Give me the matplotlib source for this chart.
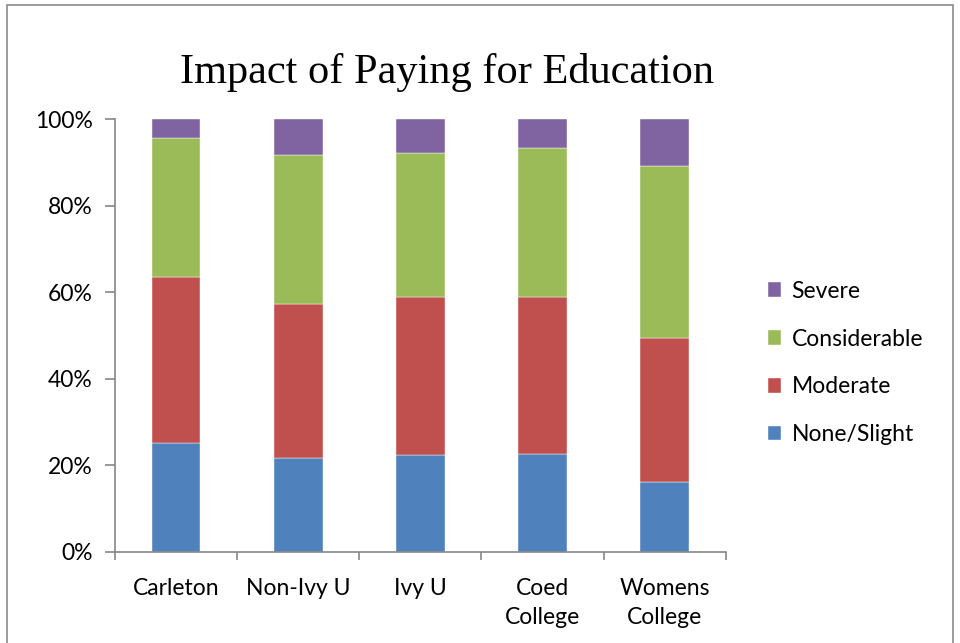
import matplotlib
matplotlib.use("Agg")
import matplotlib.pyplot as plt
import numpy as np
from matplotlib.patches import Rectangle
from matplotlib.ticker import FixedLocator, NullFormatter

categories = ["Carleton", "Non-Ivy U", "Ivy U", "Coed\nCollege", "Womens\nCollege"]
series_names = ["None/Slight", "Moderate", "Considerable", "Severe"]
none_slight = [25.2, 21.6, 22.3, 22.7, 16.1]
moderate = [38.4, 35.7, 36.5, 36.1, 33.3]
considerable = [31.9, 34.3, 33.4, 34.5, 39.7]
severe = [4.5, 8.4, 7.8, 6.7, 10.9]
colors = ["#4F81BD", "#C0504D", "#9BBB59", "#8064A2"]
y_ticks = [0, 20, 40, 60, 80, 100]
y_tick_labels = ["0%", "20%", "40%", "60%", "80%", "100%"]
title = "Impact of Paying for Education"

font = "Lato"
fs = 16.5
fig = plt.figure(figsize=(9.6, 6.43), dpi=100)
fig.patches.append(Rectangle((7/960, -0.01), (953-7)/960, 1 - 5/643 + 0.01,
                             transform=fig.transFigure, fill=False,
                             edgecolor="#8a8a8a", linewidth=1.2))
ax = fig.add_axes([115/960, 1-552/643, (725.7-115)/960, (552-119)/643])

x = np.arange(len(categories))
bottom = np.zeros(len(categories))
handles = []
for name, vals, c in zip(series_names, [none_slight, moderate, considerable, severe], colors):
    h = ax.bar(x, vals, width=0.4, bottom=bottom, color=c, edgecolor="white",
               linewidth=0.3, label=name)
    handles.append(h)
    bottom += np.array(vals)

ax.set_xlim(-0.5, len(categories) - 0.5)
ax.set_ylim(0, 100)
ax.set_yticks(y_ticks)
ax.set_yticklabels(y_tick_labels, fontsize=fs, family=font)
ax.set_xticks(x)
ax.set_xticklabels(categories, fontsize=fs, family=font, linespacing=1.45)
ax.tick_params(axis="x", which="major", length=0, pad=19)
ax.xaxis.set_minor_locator(FixedLocator(np.arange(-0.5, len(categories), 1.0)))
ax.xaxis.set_minor_formatter(NullFormatter())
ax.tick_params(axis="x", which="minor", length=6, width=1.2, color="#868686")
ax.tick_params(axis="y", length=7, width=1.2, color="#868686", pad=9)
for s in ["top", "right"]:
    ax.spines[s].set_visible(False)
for s in ["left", "bottom"]:
    ax.spines[s].set_color("#868686")
    ax.spines[s].set_linewidth(1.2)

fig.text(447/960, 1-72/643, title, ha="center", va="center",
         fontsize=30.5, family="Liberation Serif")

leg = fig.legend(handles[::-1], series_names[::-1], loc="center left",
                 bbox_to_anchor=(747/960, 1-363/643), frameon=False,
                 prop={"family": font, "size": fs}, handlelength=0.6,
                 handleheight=0.6, handletextpad=0.45, labelspacing=1.17)

fig.savefig("out.png", dpi=100)
